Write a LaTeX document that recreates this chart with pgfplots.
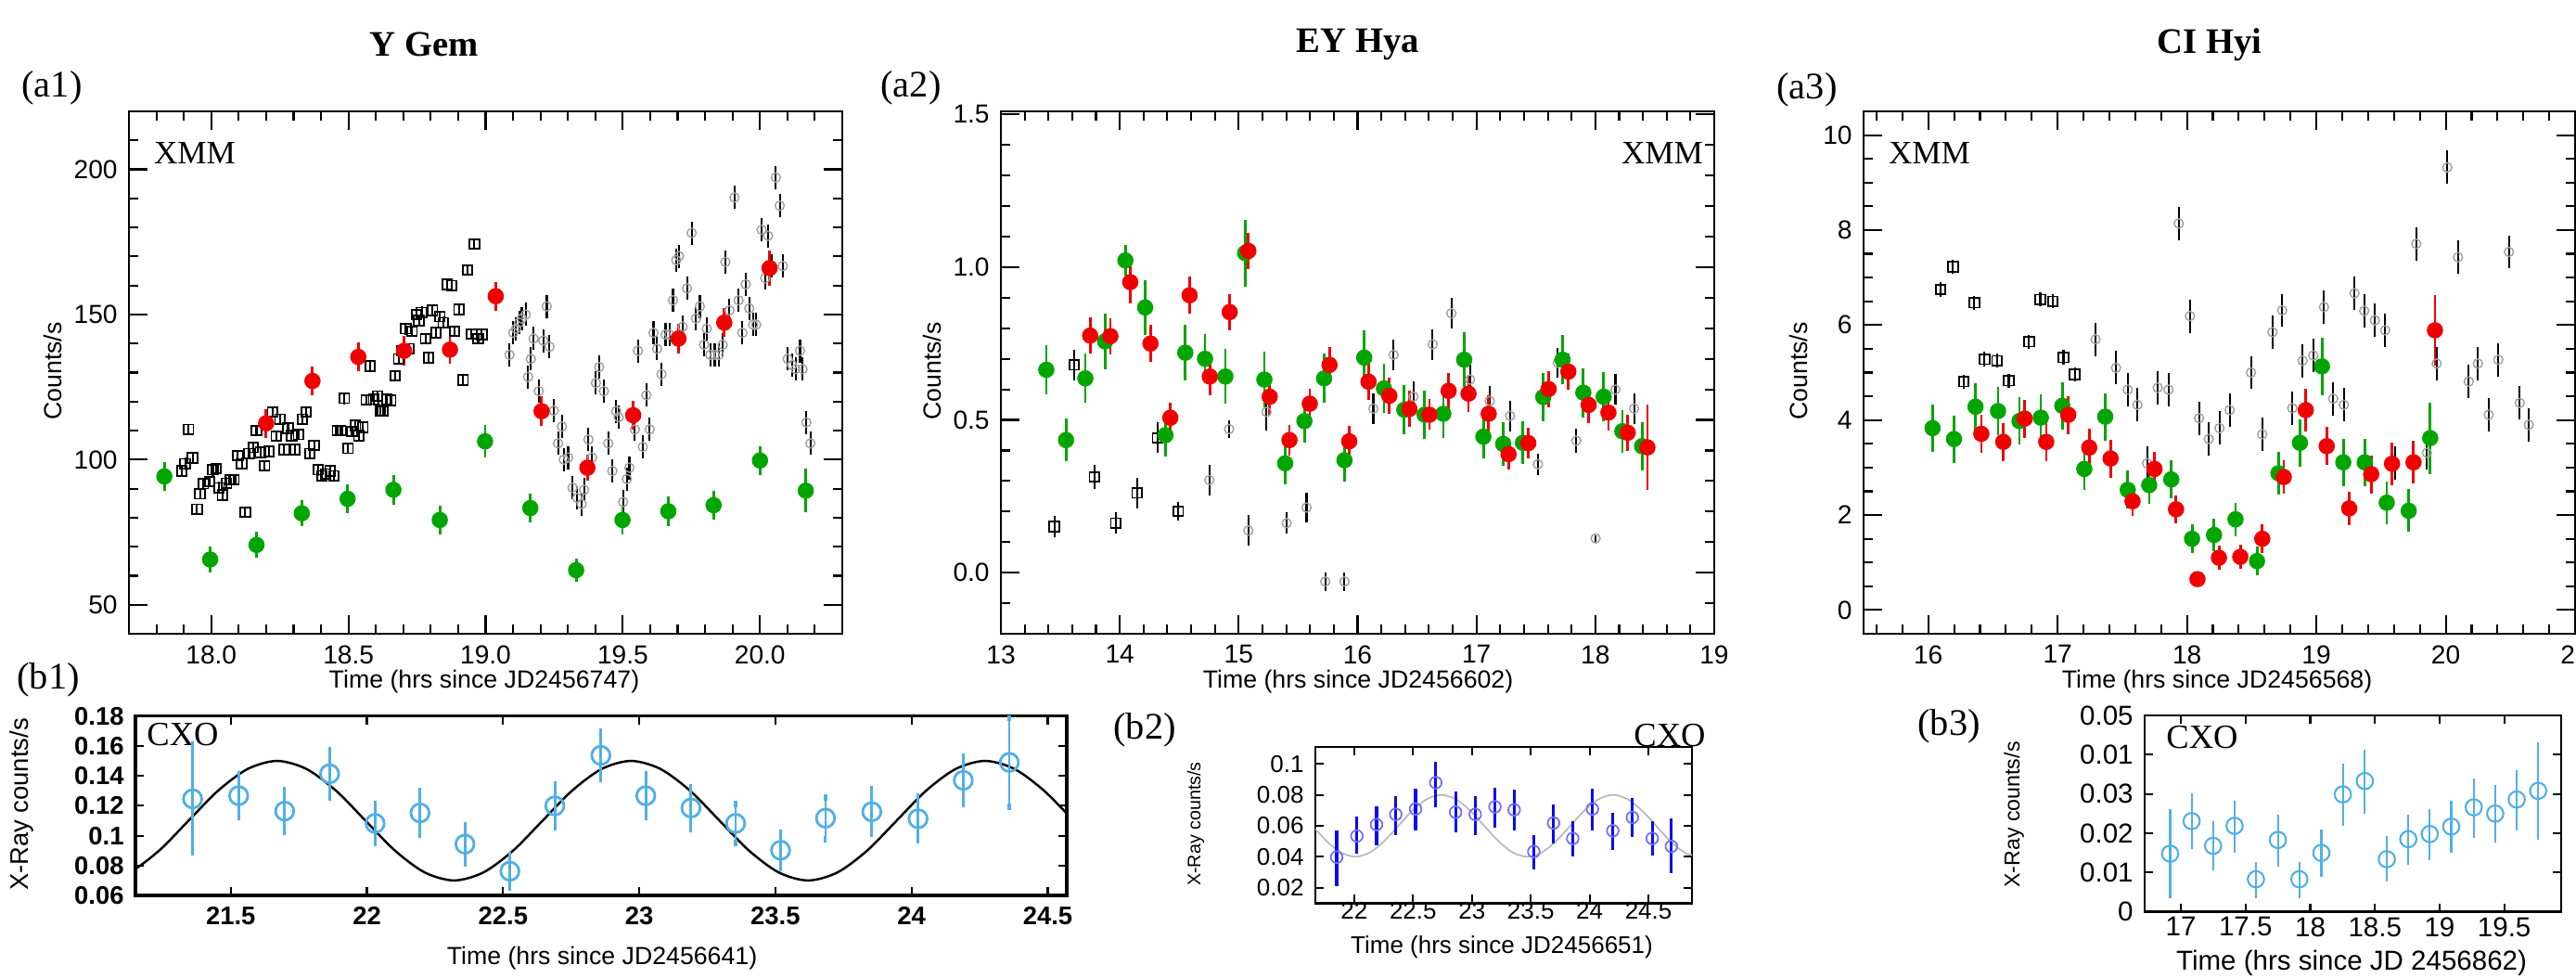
\documentclass[border=0pt]{standalone}
\usepackage{fontspec}
\setmainfont{Liberation Serif}
\setsansfont{Liberation Sans}
\usepackage{pgfplots}
\usepackage{pgfplotstable}
\pgfplotsset{compat=1.18}

\definecolor{xgreen}{RGB}{0,165,0}
\definecolor{xred}{RGB}{240,0,0}
\definecolor{xgray}{RGB}{160,160,160}
\definecolor{cxolight}{RGB}{80,175,230}
\definecolor{cxodark}{RGB}{10,10,235}
\definecolor{cxoring}{RGB}{110,110,255}

\pgfplotsset{
  xmmbox/.style={
    scale only axis, height=5.63cm,
    axis line style={line width=0.7pt},
    tick style={black, line width=0.6pt},
    major tick length=0.2cm, minor tick length=0.1cm,
    tick align=inside, scaled ticks=false,
    tick label style={font=\sffamily\fontsize{8}{9}\selectfont},
    /pgf/number format/fixed,
    /pgf/number format/assume math mode=true,
  },
  cxobox/.style={
    scale only axis,
    axis line style={line width=0.8pt},
    tick style={black, line width=0.6pt},
    major tick length=0.09cm,
    tick align=inside, scaled ticks=false,
    /pgf/number format/fixed,
    /pgf/number format/assume math mode=true,
  },
  greenpts/.style={only marks, mark=*, mark size=2.3pt, xgreen,
    error bars/y dir=both, error bars/y explicit, error bars/error mark=none,
    error bars/error bar style={line width=0.8pt, xgreen}},
  redpts/.style={only marks, mark=*, mark size=2.3pt, xred,
    error bars/y dir=both, error bars/y explicit, error bars/error mark=none,
    error bars/error bar style={line width=0.8pt, xred}},
  sqpts/.style={only marks, mark=square, mark size=1.5pt, black, mark options={line width=0.5pt},
    error bars/y dir=both, error bars/error mark=none,
    error bars/error bar style={line width=0.6pt, black}},
  graypts/.style={only marks, mark=o, mark size=1.4pt, xgray, mark options={line width=0.4pt},
    error bars/y dir=both, error bars/error mark=none,
    error bars/error bar style={line width=0.6pt, black}},
}

% ---------- Y Gem (XMM) ----------
\pgfplotstableread{
x y e
17.829 94.2 5
17.996 65.6 4.5
18.165 70.6 4.5
18.330 81.5 4.5
18.497 86.5 5
18.664 89.6 5
18.833 79.2 5
18.998 106.3 5.5
19.163 83.3 5
19.330 61.9 4
19.499 79.2 5
19.666 82.2 5
19.831 84.3 5
20.000 99.7 5
20.167 89.3 7.5
}\agreen
\pgfplotstableread{
x y e
18.200 112.5 5
18.369 127.1 5
18.536 135.4 5
18.703 137.5 5
18.870 137.9 5
19.037 156.3 5
19.204 116.7 5
19.371 97.2 4.5
19.538 115.3 5
19.703 141.7 5
19.870 147.2 5
20.035 166.0 6
}\ared
\pgfplotstableread{
x y
17.893 96.1
17.905 98.6
17.917 110.4
17.932 100.6
17.948 82.9
17.959 88.2
17.971 91.7
17.994 92.4
18.006 96.5
18.017 96.9
18.029 90.3
18.041 87.8
18.056 91.9
18.070 93.1
18.083 93.1
18.097 101.4
18.111 98.6
18.124 81.9
18.138 102.1
18.153 104.2
18.165 110.0
18.179 102.5
18.194 97.9
18.210 102.8
18.223 116.4
18.237 108.1
18.250 113.9
18.266 103.5
18.280 110.8
18.293 108.3
18.305 103.5
18.318 108.7
18.332 113.9
18.346 116.4
18.359 102.1
18.375 104.9
18.390 96.5
18.404 94.4
18.417 95.1
18.433 96.1
18.447 94.4
18.460 110.0
18.472 110.0
18.485 121.1
18.499 103.9
18.513 109.7
18.526 111.8
18.538 108.3
18.553 111.1
18.565 120.6
18.579 132.2
18.592 120.8
18.606 121.9
18.616 116.9
18.625 116.7
18.641 120.8
18.654 120.4
18.670 128.9
18.683 134.7
18.695 137.5
18.709 145.1
18.720 138.2
18.732 144.2
18.748 150.0
18.757 147.9
18.767 150.7
18.781 141.7
18.792 135.1
18.806 151.4
18.819 143.7
18.833 149.3
18.845 147.2
18.860 160.4
18.876 160.0
18.887 144.2
18.903 151.7
18.918 127.4
18.934 165.3
18.948 143.3
18.959 174.3
18.973 141.7
18.986 143.1
}\asq
\pgfplotstableread{
x y
19.087 136.1
19.101 143.7
19.111 145.1
19.122 147.2
19.132 148.6
19.146 150.0
19.155 128.5
19.165 134.7
19.175 141.7
19.194 123.6
19.210 141.0
19.223 152.8
19.233 138.9
19.249 116.9
19.264 105.6
19.278 111.4
19.285 100.0
19.301 100.7
19.317 90.3
19.334 86.8
19.350 84.7
19.359 89.6
19.375 106.9
19.388 100.7
19.402 126.4
19.414 131.9
19.431 123.6
19.447 105.6
19.462 96.1
19.476 116.7
19.485 114.6
19.501 85.4
19.515 93.3
19.524 97.2
19.544 110.4
19.555 137.5
19.573 104.4
19.586 122.2
19.598 110.4
19.612 143.7
19.625 138.2
19.641 129.4
19.656 143.1
19.670 143.1
19.683 154.9
19.695 168.7
19.705 170.1
19.718 145.8
19.734 159.0
19.751 178.1
19.767 148.6
19.781 152.8
19.796 139.6
19.806 145.1
19.819 136.1
19.835 136.1
19.850 136.1
19.864 139.6
19.874 168.1
19.889 151.4
19.907 190.3
19.922 154.9
19.936 143.7
19.948 160.4
19.961 152.1
19.975 146.5
19.986 146.5
20.006 179.2
20.019 162.5
20.029 177.1
20.043 166.7
20.058 197.2
20.072 187.5
20.083 166.7
20.101 134.7
20.117 132.6
20.130 131.2
20.146 137.5
20.155 131.2
20.169 112.8
20.184 105.6
}\agr

% ---------- EY Hya (XMM) ----------
\pgfplotstableread{
x y e
13.382 0.664 0.08
13.548 0.434 0.07
13.710 0.636 0.08
13.876 0.757 0.09
14.047 1.022 0.05
14.213 0.868 0.09
14.384 0.450 0.07
14.551 0.720 0.09
14.717 0.700 0.08
14.888 0.642 0.09
15.054 1.046 0.11
15.216 0.632 0.09
15.391 0.358 0.07
15.553 0.496 0.07
15.719 0.636 0.08
15.890 0.368 0.07
16.056 0.704 0.09
16.222 0.603 0.08
16.393 0.533 0.08
16.564 0.517 0.08
16.721 0.520 0.08
16.897 0.697 0.09
17.058 0.445 0.07
17.225 0.421 0.07
17.391 0.425 0.07
17.562 0.575 0.08
17.724 0.697 0.08
17.899 0.589 0.08
18.070 0.576 0.08
18.227 0.463 0.07
18.393 0.414 0.08
}\bgreen
\pgfplotstableread{
x y e
13.751 0.776 0.06
13.921 0.774 0.06
14.088 0.951 0.07
14.258 0.750 0.06
14.425 0.507 0.05
14.587 0.908 0.06
14.757 0.642 0.06
14.924 0.853 0.06
15.081 1.053 0.06
15.261 0.576 0.06
15.427 0.434 0.05
15.598 0.553 0.05
15.764 0.680 0.06
15.930 0.430 0.05
16.092 0.625 0.06
16.267 0.579 0.06
16.436 0.536 0.06
16.604 0.517 0.05
16.766 0.595 0.06
16.933 0.586 0.06
17.103 0.520 0.06
17.270 0.388 0.05
17.436 0.424 0.05
17.607 0.601 0.06
17.773 0.658 0.06
17.944 0.549 0.06
18.110 0.524 0.06
18.272 0.458 0.06
18.438 0.410 0.14
}\bred
\pgfplotstableread{
x y e
13.449 0.151 0.035
13.616 0.680 0.05
13.787 0.313 0.04
13.966 0.162 0.035
14.146 0.261 0.05
14.317 0.441 0.05
14.492 0.201 0.03
}\bsq
\pgfplotstableread{
x y e
14.753 0.303 0.05
14.919 0.470 0.03
15.081 0.138 0.05
15.234 0.526 0.06
15.404 0.162 0.035
15.571 0.213 0.05
15.728 -0.029 0.03
15.890 -0.029 0.03
16.133 0.537 0.05
16.303 0.713 0.05
16.470 0.576 0.05
16.631 0.747 0.05
16.789 0.849 0.05
16.946 0.632 0.05
17.112 0.562 0.05
17.283 0.513 0.05
17.517 0.355 0.035
17.683 0.687 0.05
17.840 0.432 0.04
18.002 0.112 0.01
18.169 0.599 0.05
18.326 0.537 0.05
}\bgr

% ---------- CI Hyi (XMM) ----------
\pgfplotstableread{
x y e
16.033 3.83 0.5
16.199 3.60 0.5
16.365 4.28 0.5
16.539 4.19 0.5
16.705 3.98 0.5
16.870 4.05 0.5
17.036 4.30 0.5
17.206 2.97 0.45
17.368 4.07 0.5
17.542 2.53 0.4
17.708 2.63 0.4
17.878 2.75 0.4
18.039 1.50 0.3
18.209 1.58 0.35
18.375 1.91 0.35
18.541 1.03 0.3
18.707 2.88 0.45
18.873 3.52 0.5
19.043 5.13 0.6
19.208 3.11 0.5
19.374 3.11 0.5
19.544 2.26 0.45
19.714 2.09 0.45
19.880 3.62 0.75
}\cgreen
\pgfplotstableread{
x y e
16.410 3.71 0.4
16.580 3.54 0.4
16.746 4.03 0.4
16.912 3.54 0.4
17.082 4.11 0.4
17.244 3.42 0.4
17.409 3.19 0.4
17.579 2.29 0.3
17.749 2.97 0.35
17.915 2.12 0.3
18.081 0.65 0.15
18.247 1.10 0.25
18.412 1.12 0.25
18.582 1.50 0.3
18.748 2.80 0.35
18.918 4.21 0.45
19.080 3.45 0.4
19.254 2.14 0.35
19.424 2.86 0.4
19.585 3.08 0.45
19.751 3.11 0.45
19.917 5.89 0.75
}\cred
\pgfplotstableread{
x y
16.095 6.75
16.191 7.23
16.274 4.81
16.356 6.47
16.435 5.28
16.531 5.25
16.622 4.83
16.779 5.65
16.866 6.54
16.962 6.50
17.045 5.32
17.132 4.96
}\csq
\pgfplotstableread{
x y
17.293 5.70
17.451 5.10
17.542 4.64
17.617 4.32
17.691 3.09
17.774 4.68
17.857 4.64
17.936 8.14
18.023 6.19
18.093 4.04
18.168 3.60
18.251 3.83
18.330 4.21
18.495 5.00
18.582 3.70
18.661 5.85
18.736 6.31
18.814 4.25
18.894 5.25
18.976 5.36
19.059 6.38
19.130 4.45
19.212 4.32
19.295 6.67
19.370 6.30
19.453 6.10
19.532 5.89
19.606 3.09
19.772 7.71
19.855 3.31
19.930 5.19
20.012 9.32
20.095 7.43
20.178 4.81
20.249 5.19
20.332 4.11
20.406 5.27
20.489 7.54
20.572 4.36
20.642 3.90
}\cgr

% ---------- CXO light curves ----------
\pgfplotstableread{
x y e
21.360 0.1246 0.036
21.529 0.1267 0.0145
21.698 0.1164 0.014
21.863 0.1414 0.016
22.030 0.1082 0.013
22.195 0.1152 0.0145
22.360 0.0943 0.0126
22.525 0.0762 0.011
22.690 0.1199 0.014
22.859 0.1537 0.016
23.024 0.1267 0.0145
23.190 0.1185 0.014
23.354 0.1082 0.013
23.519 0.0902 0.0117
23.684 0.1117 0.014
23.854 0.1160 0.015
24.024 0.1113 0.0145
24.190 0.1370 0.016
24.359 0.1490 0.030
}\dpts
\pgfplotstableread{
x y
21.020 0.0700
21.128 0.0754
21.237 0.0900
21.345 0.1100
21.453 0.1300
21.562 0.1446
21.670 0.1500
21.778 0.1446
21.887 0.1300
21.995 0.1100
22.103 0.0900
22.212 0.0754
22.320 0.0700
22.428 0.0754
22.537 0.0900
22.645 0.1100
22.753 0.1300
22.862 0.1446
22.970 0.1500
23.078 0.1446
23.187 0.1300
23.295 0.1100
23.403 0.0900
23.512 0.0754
23.620 0.0700
23.728 0.0754
23.837 0.0900
23.945 0.1100
24.053 0.1300
24.162 0.1446
24.270 0.1500
24.378 0.1446
24.487 0.1300
24.595 0.1100
}\dfit
\pgfplotstableread{
x y lo hi
21.851 0.0397 0.0171 0.0155
22.023 0.0534 0.0097 0.0104
22.190 0.0608 0.0117 0.0101
22.353 0.0674 0.0116 0.0101
22.521 0.0709 0.0121 0.0110
22.693 0.0879 0.0140 0.0117
22.861 0.0688 0.0114 0.0115
23.028 0.0674 0.0116 0.0101
23.196 0.0723 0.0115 0.0106
23.359 0.0703 0.0115 0.0112
23.526 0.0433 0.0096 0.0089
23.694 0.0618 0.0116 0.0101
23.857 0.0518 0.0095 0.0090
24.024 0.0709 0.0121 0.0110
24.197 0.0568 0.0107 0.0094
24.364 0.0654 0.0106 0.0105
24.532 0.0518 0.0091 0.0090
24.695 0.0467 0.0154 0.0161
}\epts
\pgfplotstableread{
x y
21.523 0.0700
21.645 0.0600
21.767 0.0500
21.888 0.0427
22.010 0.0400
22.132 0.0427
22.253 0.0500
22.375 0.0600
22.497 0.0700
22.618 0.0773
22.740 0.0800
22.862 0.0773
22.983 0.0700
23.105 0.0600
23.227 0.0500
23.348 0.0427
23.470 0.0400
23.592 0.0427
23.713 0.0500
23.835 0.0600
23.957 0.0700
24.078 0.0773
24.200 0.0800
24.322 0.0773
24.443 0.0700
24.565 0.0600
24.687 0.0500
24.808 0.0427
24.930 0.0400
}\efit
\pgfplotstableread{
x y lo hi
16.917 0.0148 0.0106 0.0106
17.083 0.0231 0.0063 0.0063
17.249 0.0168 0.0055 0.0055
17.415 0.0219 0.0060 0.0057
17.580 0.0083 0.0041 0.0037
17.750 0.0183 0.0060 0.0056
17.916 0.0083 0.0041 0.0037
18.086 0.0150 0.0053 0.0051
18.252 0.0299 0.0072 0.0070
18.422 0.0333 0.0075 0.0073
18.592 0.0134 0.0049 0.0051
18.758 0.0185 0.0057 0.0054
18.924 0.0198 0.0058 0.0056
19.090 0.0217 0.0060 0.0059
19.264 0.0266 0.0071 0.0065
19.430 0.0250 0.0067 0.0066
19.596 0.0286 0.0071 0.0068
19.762 0.0308 0.0118 0.0116
}\fpts

\begin{document}
\begin{tikzpicture}
\path[use as bounding box] (0,0) rectangle (27.77,10.53);

% titles and panel tags
\node[font=\bfseries\fontsize{11}{13}\selectfont] at (4.57,10.05) {Y Gem};
\node[font=\bfseries\fontsize{11}{13}\selectfont] at (14.64,10.05) {EY Hya};
\node[font=\bfseries\fontsize{11}{13}\selectfont] at (23.82,10.05) {CI Hyi};
\node[font=\fontsize{11.5}{13}\selectfont] at (0.56,9.58) {(a1)};
\node[font=\fontsize{11.5}{13}\selectfont] at (9.82,9.58) {(a2)};
\node[font=\fontsize{11.5}{13}\selectfont] at (19.48,9.56) {(a3)};
\node[font=\fontsize{11.5}{13}\selectfont] at (0.52,3.20) {(b1)};
\node[font=\fontsize{11.5}{13}\selectfont] at (12.34,2.66) {(b2)};
\node[font=\fontsize{11.5}{13}\selectfont] at (21.01,2.70) {(b3)};

% axis titles
\node[font=\sffamily\fontsize{7.6}{9}\selectfont, rotate=90] at (0.57,6.53) {Counts/s};
\node[font=\sffamily\fontsize{7.6}{9}\selectfont, rotate=90] at (10.05,6.53) {Counts/s};
\node[font=\sffamily\fontsize{7.6}{9}\selectfont, rotate=90] at (19.39,6.53) {Counts/s};
\node[font=\sffamily\fontsize{7.6}{9}\selectfont] at (5.22,3.18) {Time (hrs since JD2456747)};
\node[font=\sffamily\fontsize{7.6}{9}\selectfont] at (14.64,3.18) {Time (hrs since JD2456602)};
\node[font=\sffamily\fontsize{7.6}{9}\selectfont] at (23.90,3.18) {Time (hrs since JD2456568)};
\node[font=\sffamily\fontsize{7.8}{9}\selectfont, rotate=90] at (0.23,1.86) {X-Ray counts/s};
\node[font=\sffamily\fontsize{7.6}{9}\selectfont] at (6.49,0.20) {Time (hrs since JD2456641)};
\node[font=\sffamily\fontsize{5.6}{7}\selectfont, rotate=90] at (12.89,1.65) {X-Ray counts/s};
\node[font=\sffamily\fontsize{7.4}{9}\selectfont] at (16.19,0.32) {Time (hrs since JD2456651)};
\node[font=\sffamily\fontsize{6.6}{8}\selectfont, rotate=90] at (21.71,1.75) {X-Ray counts/s};
\node[font=\sffamily\fontsize{8.4}{10}\selectfont] at (25.35,0.15) {Time (hrs since JD 2456862)};

% instrument tags
\node[font=\fontsize{10}{12}\selectfont] at (2.10,8.88) {XMM};
\node[font=\fontsize{10}{12}\selectfont] at (17.92,8.88) {XMM};
\node[font=\fontsize{10}{12}\selectfont] at (20.80,8.88) {XMM};
\node[font=\fontsize{10.4}{12}\selectfont] at (1.97,2.61) {CXO};
\node[font=\fontsize{10.4}{12}\selectfont] at (18.00,2.60) {CXO};
\node[font=\fontsize{10.4}{12}\selectfont] at (23.74,2.58) {CXO};

% (a1) Y Gem
\begin{axis}[xmmbox, at={(1.39cm,3.70cm)}, anchor=south west, width=7.69cm,
  xmin=17.7, xmax=20.3, ymin=40, ymax=220,
  xtick={18,18.5,19,19.5,20},
  minor xtick={17.7,17.8,...,20.3},
  ytick={50,100,150,200},
  minor ytick={60,70,80,90,110,120,130,140,160,170,180,190,210},
  xticklabel style={/pgf/number format/.cd, fixed, fixed zerofill, precision=1},
]
\addplot[sqpts, error bars/y fixed=2] table[x=x,y=y] {\asq};
\addplot[graypts, error bars/y fixed=4] table[x=x,y=y] {\agr};
\addplot[greenpts] table[x=x,y=y,y error=e] {\agreen};
\addplot[redpts] table[x=x,y=y,y error=e] {\ared};
\end{axis}

% (a2) EY Hya
\begin{axis}[xmmbox, at={(10.79cm,3.70cm)}, anchor=south west, width=7.69cm,
  xmin=13, xmax=19, ymin=-0.2, ymax=1.51,
  xtick={13,14,...,19},
  minor xtick={13,13.2,...,19},
  ytick={0,0.5,1,1.5},
  minor ytick={-0.1,0.1,0.2,0.3,0.4,0.6,0.7,0.8,0.9,1.1,1.2,1.3,1.4},
  yticklabel style={/pgf/number format/.cd, fixed, fixed zerofill, precision=1},
]
\addplot[sqpts, error bars/y explicit] table[x=x,y=y,y error=e] {\bsq};
\addplot[graypts, error bars/y explicit] table[x=x,y=y,y error=e] {\bgr};
\addplot[greenpts] table[x=x,y=y,y error=e] {\bgreen};
\addplot[redpts] table[x=x,y=y,y error=e] {\bred};
\end{axis}

% (a3) CI Hyi
\begin{axis}[xmmbox, at={(20.09cm,3.70cm)}, anchor=south west, width=7.67cm,
  xmin=15.5, xmax=21, ymin=-0.5, ymax=10.5,
  xtick={16,17,...,21},
  minor xtick={15.6,15.8,...,20.9},
  ytick={0,2,4,6,8,10},
  minor ytick={0.5,1,1.5,2.5,3,3.5,4.5,5,5.5,6.5,7,7.5,8.5,9,9.5},
]
\addplot[sqpts, error bars/y fixed=0.15] table[x=x,y=y] {\csq};
\addplot[graypts, error bars/y fixed=0.35] table[x=x,y=y] {\cgr};
\addplot[greenpts] table[x=x,y=y,y error=e] {\cgreen};
\addplot[redpts] table[x=x,y=y,y error=e] {\cred};
\end{axis}

% (b1) Y Gem, CXO
\begin{axis}[cxobox, at={(1.46cm,0.88cm)}, anchor=south west, width=10.04cm, height=1.933cm,
  axis line style={line width=1pt},
  xmin=21.15, xmax=24.57, ymin=0.06, ymax=0.18,
  xtick={21.5,22,...,24.5},
  ytick={0.06,0.08,0.1,0.12,0.14,0.16,0.18},
  tick label style={font=\sffamily\bfseries\fontsize{7.8}{9}\selectfont},
]
\addplot[black, line width=0.7pt, smooth] table[x=x,y=y] {\dfit};
\addplot[only marks, mark=o, mark size=2.8pt, cxolight, mark options={line width=0.8pt},
  error bars/y dir=both, error bars/y explicit,
  error bars/error mark options={mark size=1pt, line width=0.9pt},
  error bars/error bar style={line width=0.8pt, cxolight}]
  table[x=x,y=y,y error=e] {\dpts};
\end{axis}

% (b2) EY Hya, CXO
\begin{axis}[cxobox, at={(14.18cm,0.797cm)}, anchor=south west, width=4.06cm, height=1.683cm,
  xmin=21.67, xmax=24.87, ymin=0.01, ymax=0.111,
  xtick={22,22.5,...,24.5},
  ytick={0.02,0.04,0.06,0.08,0.1},
  tick label style={font=\sffamily\fontsize{7.4}{8}\selectfont},
  xticklabel style={inner sep=1pt, yshift=1.5pt},
]
\addplot[gray!55, line width=0.5pt, smooth] table[x=x,y=y] {\efit};
\addplot[only marks, mark=o, mark size=1.8pt, cxoring, mark options={line width=0.5pt},
  error bars/y dir=both, error bars/y explicit,
  error bars/error mark options={mark size=0.9pt, line width=0.9pt, cxodark},
  error bars/error bar style={line width=0.9pt, cxodark}]
  table[x=x,y=y,y error minus=lo,y error plus=hi] {\epts};
\end{axis}

% (b3) CI Hyi, CXO
\begin{axis}[cxobox, at={(23.12cm,0.703cm)}, anchor=south west, width=4.49cm, height=2.117cm,
  xmin=16.72, xmax=19.94, ymin=0, ymax=0.05,
  xtick={17,17.5,...,19.5},
  ytick={0,0.01,0.02,0.03,0.04,0.05},
  yticklabels={0,0.01,0.02,0.03,0.01,0.05},
  tick label style={font=\sffamily\fontsize{8.4}{10}\selectfont},
  xticklabel style={inner sep=1.5pt},
]
\addplot[only marks, mark=o, mark size=2.5pt, cxolight, mark options={line width=0.6pt},
  error bars/y dir=both, error bars/y explicit,
  error bars/error mark options={mark size=0.9pt, line width=0.6pt},
  error bars/error bar style={line width=0.6pt, cxolight}]
  table[x=x,y=y,y error minus=lo,y error plus=hi] {\fpts};
\end{axis}
\end{tikzpicture}
\end{document}
